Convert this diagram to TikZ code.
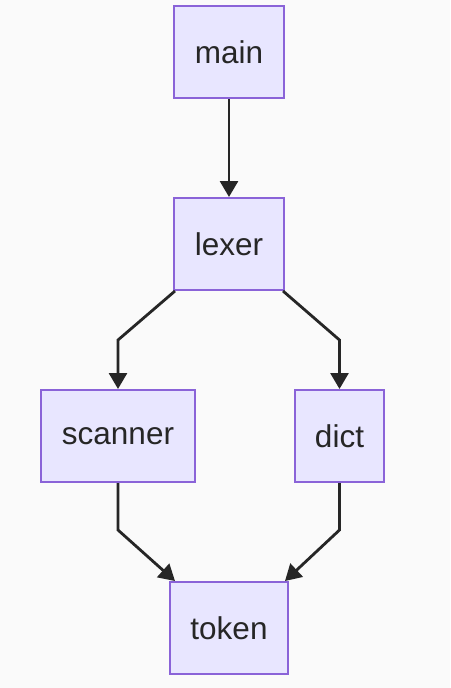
\documentclass[tikz,border=0pt]{standalone}
\usepackage{fontspec}
\setmainfont{Liberation Sans}
\usetikzlibrary{arrows.meta}
\definecolor{bg}{HTML}{FAFAFA}
\definecolor{boxfill}{HTML}{E8E6FF}
\definecolor{boxline}{HTML}{8A63D8}
\definecolor{edge}{HTML}{262626}
\begin{document}
\begin{tikzpicture}[x=1pt,y=-1pt,
  box/.style={draw=boxline,fill=boxfill,line width=2pt,inner sep=0pt,
    font=\fontsize{31.5}{36}\selectfont,text=black!85},
  conn/.style={draw=edge,line width=2.8pt,-{Triangle[length=16pt,width=18pt]}}]
\fill[bg] (0,0) rectangle (450,688);
\useasboundingbox (0,0) rectangle (450,688);
\node[box,minimum width=110pt,minimum height=92pt] (main) at (229,52) {main};
\node[box,minimum width=110pt,minimum height=92pt] (lexer) at (229,244) {lexer};
\node[box,minimum width=154pt,minimum height=92pt] (scanner) at (118,436) {scanner};
\node[box,minimum width=89pt,minimum height=92pt] (dict) at (339.5,436) {dict};
\node[box,minimum width=118pt,minimum height=92pt] (token) at (229,628) {token};
\coordinate (l1) at (118,340);
\coordinate (r1) at (339.5,340);
\coordinate (l2) at (118,530);
\coordinate (r2) at (339.5,530);
\draw[conn] (main.south) -- (lexer.north);
\draw[conn] (lexer.south west) ++(2,0) coordinate (lsw) -- (l1) -- (scanner.north);
\draw[conn] (lexer.south east) ++(-2,0) -- (r1) -- (dict.north);
\draw[conn] (scanner.south) -- (l2) -- ([xshift=6pt]token.north west);
\draw[conn] (dict.south) -- (r2) -- ([xshift=-4pt]token.north east);
\end{tikzpicture}
\end{document}
